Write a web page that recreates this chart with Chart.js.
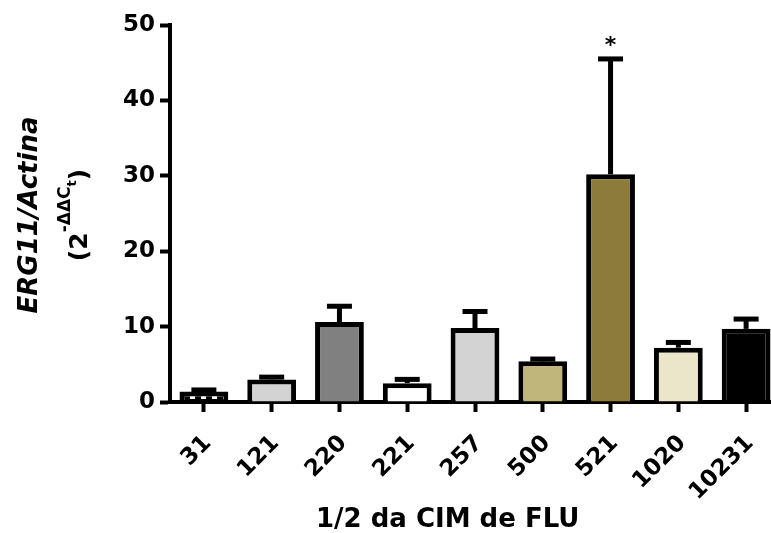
<!DOCTYPE html>
<html>
<head>
<meta charset="utf-8">
<script src="https://cdn.jsdelivr.net/npm/chart.js@4.4.0/dist/chart.umd.min.js"></script>
<style>
html, body { margin: 0; padding: 0; overflow: hidden; background: #fff; }
#wrap { width: 780px; height: 533px; }
</style>
</head>
<body>
<div id="wrap"><canvas id="grafico" width="780" height="533"></canvas></div>
<script>
// dados
const categorias = ['31', '121', '220', '221', '257', '500', '521', '1020', '10231'];
const medias = [1.4, 3.0, 10.6, 2.5, 9.8, 5.4, 30.2, 7.2, 9.7];
const errosSup = [1.6, 3.3, 12.7, 3.0, 12.0, 5.7, 45.5, 7.9, 11.0];
const marcas = ['', '', '', '', '', '', '*', '', ''];
const ticksY = [0, 10, 20, 30, 40, 50];
const cores = ['pontilhado', '#d3d3d3', '#808080', '#ffffff', '#d3d3d3', '#c0b57b', '#8c7b3b', '#ebe5c9', '#000000'];

const fonte = '"DejaVu Sans", sans-serif';

// padrao preto com pontos brancos (barra 31)
function criarPadrao() {
  const c = document.createElement('canvas');
  c.width = 11; c.height = 6;
  const g = c.getContext('2d');
  g.fillStyle = '#000';
  g.fillRect(0, 0, 11, 6);
  g.fillStyle = '#fff';
  g.fillRect(3, 0, 5, 3);
  const ctx = document.getElementById('grafico').getContext('2d');
  return ctx.createPattern(c, 'repeat');
}
const padrao = criarPadrao();
const fundos = cores.map(c => c === 'pontilhado' ? padrao : c);

// barras de erro (so a parte de cima) e asterisco
const barrasErro = {
  id: 'barrasErro',
  afterDatasetsDraw(chart) {
    const ctx = chart.ctx;
    const meta = chart.getDatasetMeta(0);
    const y = chart.scales.y;
    ctx.save();
    ctx.strokeStyle = '#000';
    ctx.lineWidth = 5;
    meta.data.forEach((bar, i) => {
      const yErr = y.getPixelForValue(errosSup[i]);
      ctx.beginPath();
      ctx.moveTo(bar.x, bar.y);
      ctx.lineTo(bar.x, yErr);
      ctx.stroke();
      ctx.beginPath();
      ctx.moveTo(bar.x - 12.5, yErr);
      ctx.lineTo(bar.x + 12.5, yErr);
      ctx.stroke();
      if (marcas[i]) {
        ctx.fillStyle = '#000';
        ctx.font = 'bold 22px ' + fonte;
        ctx.textAlign = 'center';
        ctx.textBaseline = 'middle';
        ctx.fillText(marcas[i], bar.x, yErr - 13);
      }
    });
    ctx.restore();
  }
};

// titulos dos eixos
const titulos = {
  id: 'titulos',
  afterDraw(chart) {
    const ctx = chart.ctx;
    ctx.save();
    ctx.fillStyle = '#000';
    ctx.textBaseline = 'alphabetic';

    // eixo x
    ctx.font = 'bold 26px ' + fonte;
    ctx.textAlign = 'left';
    ctx.fillText('1/2 da CIM de FLU', 316, 527);

    // eixo y
    ctx.translate(0, 215);
    ctx.rotate(-Math.PI / 2);
    ctx.font = 'italic bold 26px ' + fonte;
    ctx.textAlign = 'center';
    ctx.fillText('ERG11/Actina', 0, 37);

    const partes = [
      { t: '(2', size: 25, v: 87 },
      { t: '-\u0394\u0394C', size: 17, v: 70 },
      { t: 't', size: 13, v: 76 },
      { t: ')', size: 25, v: 87 }
    ];
    let total = 0;
    partes.forEach(p => {
      ctx.font = 'bold ' + p.size + 'px ' + fonte;
      p.w = ctx.measureText(p.t).width;
      total += p.w;
    });
    let u = -total / 2;
    ctx.textAlign = 'left';
    partes.forEach(p => {
      ctx.font = 'bold ' + p.size + 'px ' + fonte;
      ctx.fillText(p.t, u, p.v);
      u += p.w;
    });
    ctx.restore();
  }
};

new Chart(document.getElementById('grafico'), {
  type: 'bar',
  data: {
    labels: categorias,
    datasets: [{
      data: medias,
      backgroundColor: fundos,
      borderColor: '#000',
      borderWidth: 5,
      barPercentage: 0.72,
      categoryPercentage: 1
    }]
  },
  options: {
    responsive: false,
    animation: false,
    layout: { padding: { top: 25, left: 0, right: 0, bottom: 0 } },
    plugins: {
      legend: { display: false },
      tooltip: { enabled: false }
    },
    scales: {
      x: {
        z: 1,
        grid: {
          offset: false,
          drawOnChartArea: false,
          drawTicks: true,
          tickLength: 10,
          tickWidth: 4,
          tickColor: '#000'
        },
        border: { color: '#000', width: 4 },
        ticks: {
          color: '#000',
          font: { family: fonte, size: 23, weight: 'bold' },
          minRotation: 45,
          maxRotation: 45,
          autoSkip: false,
          padding: 18,
          labelOffset: 4
        },
        afterFit(scale) {
          scale.height = 131;
          scale.paddingLeft = 0;
          scale.paddingRight = 0;
        }
      },
      y: {
        z: 1,
        min: 0,
        max: 50,
        grid: {
          drawOnChartArea: false,
          drawTicks: true,
          tickLength: 10,
          tickWidth: 4,
          tickColor: '#000'
        },
        border: { color: '#000', width: 4 },
        ticks: {
          color: '#000',
          font: { family: fonte, size: 23, weight: 'bold' },
          padding: 5
        },
        afterBuildTicks(scale) { scale.ticks = ticksY.map(v => ({ value: v })); },
        afterFit(scale) { scale.width = 170; }
      }
    }
  },
  plugins: [barrasErro, titulos]
});
</script>
</body>
</html>
